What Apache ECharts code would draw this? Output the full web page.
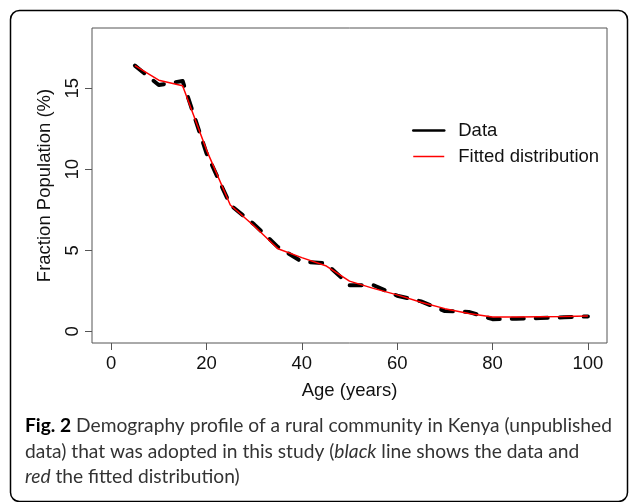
<!DOCTYPE html>
<html><head><meta charset="utf-8">
<script src="https://cdn.jsdelivr.net/npm/echarts@6/dist/echarts.min.js"></script>
<style>html,body{margin:0;padding:0;background:#fff}#c{width:630px;height:502px}</style>
</head><body><div id="c"></div>
<script>
const ages = [5,10,15,20,25,30,35,40,45,50,55,60,65,70,75,80,85,90,95,100];
const dataValues = [16.4,15.2,15.45,11.0,7.8,6.6,5.2,4.3,4.2,2.85,2.85,2.2,1.85,1.25,1.2,0.75,0.78,0.82,0.87,0.92];
const fittedValues = [16.4,15.5,15.15,11.2,7.8,6.5,5.1,4.55,4.05,3.1,2.65,2.25,1.8,1.4,1.1,0.88,0.88,0.9,0.92,0.95];
const xTicks = [0,20,40,60,80,100];
const yTicks = [0,5,10,15];
const seriesNames = ['Data','Fitted distribution'];
const xTitle = 'Age (years)';
const yTitle = 'Fraction Population (%)';
const captionLines = [
  '{b|Fig. 2} Demography profile of a rural community in Kenya (unpublished',
  'data) that was adopted in this study ({i|black} line shows the data and',
  '{i|red} the fitted distribution)'
];

const axisFont = 'Liberation Sans, Arial, sans-serif';
const capFont = 'Lato, "Open Sans", sans-serif';
const fs = 18.5;
const capFs = 19.2;
const chart = echarts.init(document.getElementById('c'), null, {renderer:'canvas'});
const pair = (xs, ys) => xs.map((x,i)=>[x, ys[i]]);

const captionRich = {
  b:{fontWeight:'bold', fontFamily:capFont, fontSize:capFs, fill:'#000'},
  i:{fontStyle:'italic', fontFamily:capFont, fontSize:capFs, fill:'#333'}
};

chart.setOption({
  animation:false,
  backgroundColor:'#fff',
  grid:{left:92, top:28, right:23, bottom:159, show:true, borderColor:'#555', borderWidth:1},
  xAxis:{
    type:'value', min:-4, max:104,
    axisLine:{show:false, onZero:false},
    splitLine:{show:false},
    axisTick:{show:true, length:7, customValues:xTicks, lineStyle:{color:'#555'}},
    axisLabel:{customValues:xTicks, margin:11, fontSize:fs, color:'#111', fontFamily:axisFont},
    name:xTitle, nameLocation:'middle', nameGap:38,
    nameTextStyle:{fontSize:fs, color:'#111', fontFamily:axisFont}
  },
  yAxis:{
    type:'value', min:-0.72, max:18.72,
    axisLine:{show:false, onZero:false},
    splitLine:{show:false},
    axisTick:{show:true, length:7, customValues:yTicks, lineStyle:{color:'#555'}},
    axisLabel:{customValues:yTicks, rotate:90, margin:19, fontSize:fs, color:'#111', fontFamily:axisFont, align:'center', verticalAlign:'middle'},
    name:yTitle, nameLocation:'middle', nameGap:38, nameRotate:90,
    nameTextStyle:{fontSize:fs, color:'#111', fontFamily:axisFont}
  },
  legend:{
    orient:'vertical', left:407, top:116, itemWidth:31, itemHeight:18, itemGap:7,
    textStyle:{fontSize:fs, color:'#111', fontFamily:axisFont, padding:[0,0,0,9]},
    data:[
      {name:seriesNames[0], itemStyle:{opacity:0}, lineStyle:{type:'solid', width:2.5, color:'#000'}},
      {name:seriesNames[1], itemStyle:{opacity:0}, lineStyle:{type:'solid', width:1.5, color:'#ff0000'}}
    ]
  },
  series:[
    {name:seriesNames[0], type:'line', data:pair(ages,dataValues), symbol:'none', z:2,
     lineStyle:{color:'#000', width:4, type:[12,12], cap:'round', join:'round'}, itemStyle:{color:'#000'}},
    {name:seriesNames[1], type:'line', data:pair(ages,fittedValues), symbol:'none', z:3,
     lineStyle:{color:'#ff0000', width:1.5}, itemStyle:{color:'#ff0000'}}
  ],
  graphic:[
    {type:'rect', shape:{x:10.5, y:10.5, width:617, height:491, r:9}, style:{fill:null, stroke:'#000', lineWidth:1.5}, silent:true},
    {type:'text', left:25, top:416, style:{text:captionLines[0], fontFamily:capFont, fontSize:capFs, fill:'#333', rich:captionRich}},
    {type:'text', left:25, top:442, style:{text:captionLines[1], fontFamily:capFont, fontSize:capFs, fill:'#333', rich:captionRich}},
    {type:'text', left:25, top:467, style:{text:captionLines[2], fontFamily:capFont, fontSize:capFs, fill:'#333', rich:captionRich}}
  ]
});
</script></body></html>
